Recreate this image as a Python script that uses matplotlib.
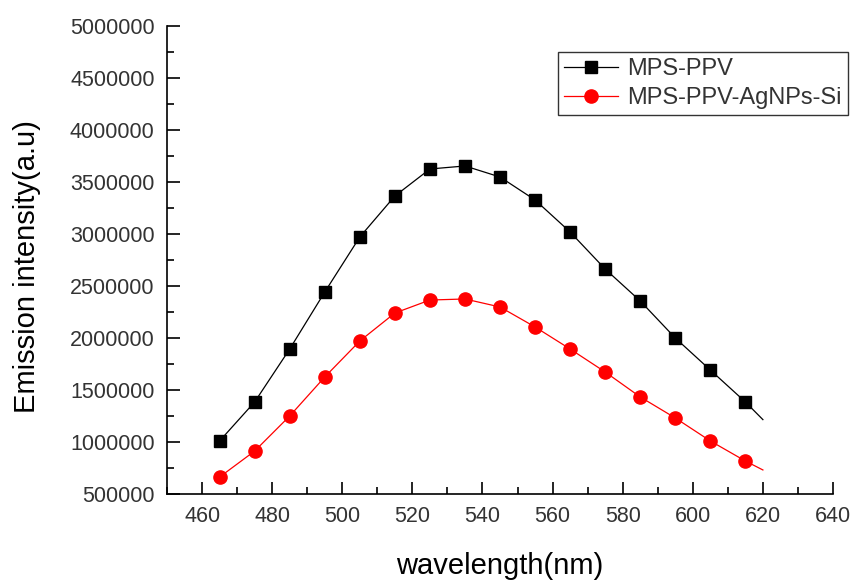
import numpy as np
import matplotlib
matplotlib.use('Agg')
import matplotlib.pyplot as plt
from matplotlib.ticker import MultipleLocator, FormatStrFormatter

# wavelength (nm) of the plotted points; last point is the curve end (no marker)
wavelength = [465, 475, 485, 495, 505, 515, 525, 535, 545, 555,
              565, 575, 585, 595, 605, 615, 620]
mps_ppv = [1010000, 1385000, 1894000, 2442000, 2971000, 3365000, 3625000,
           3654000, 3548000, 3327000, 3019000, 2663000, 2356000, 2000000,
           1692000, 1385000, 1215000]
mps_ppv_ag = [663000, 913000, 1250000, 1625000, 1971000, 2240000, 2365000,
              2375000, 2298000, 2106000, 1894000, 1673000, 1433000, 1231000,
              1010000, 817000, 731000]
labels = ['MPS-PPV', 'MPS-PPV-AgNPs-Si']

plt.rcParams.update({
    'font.family': ['Liberation Sans', 'DejaVu Sans'],
    'text.color': '#333333',
    'xtick.color': 'black',
    'ytick.color': 'black',
    'xtick.labelcolor': '#333333',
    'ytick.labelcolor': '#333333',
})

fig = plt.figure(figsize=(8.54, 5.8), dpi=100)
ax = fig.add_axes([0.1956, 0.1483, 0.7798, 0.8069])

n = len(wavelength) - 1
ax.plot(wavelength, mps_ppv, color='black', lw=0.9, marker='s', ms=9,
        markevery=list(range(n)), label=labels[0])
ax.plot(wavelength, mps_ppv_ag, color='red', lw=0.9, marker='o', ms=9.5,
        markevery=list(range(n)), label=labels[1])

ax.set_xlim(450, 640)
ax.set_ylim(500000, 5000000)
ax.xaxis.set_major_locator(MultipleLocator(20))
ax.xaxis.set_minor_locator(MultipleLocator(10))
ax.yaxis.set_major_locator(MultipleLocator(500000))
ax.yaxis.set_minor_locator(MultipleLocator(250000))
ax.yaxis.set_major_formatter(FormatStrFormatter('%d'))
ax.tick_params(which='both', direction='in', labelsize=15.5, width=1.2)
ax.tick_params(which='major', length=9, pad=9)
ax.tick_params(which='minor', length=5)
ax.spines['top'].set_visible(False)
ax.spines['right'].set_visible(False)
ax.spines['left'].set_linewidth(1.2)
ax.spines['bottom'].set_linewidth(1.2)

ax.set_xlabel('wavelength(nm)', fontsize=21)
ax.set_ylabel('Emission intensity(a.u)', fontsize=21)
ax.xaxis.set_label_coords(0.5, -0.125)
ax.yaxis.set_label_coords(-0.19, 0.485)

leg = ax.legend(loc='upper left', bbox_to_anchor=(0.653, 0.91),
                bbox_transform=fig.transFigure, fontsize=17,
                frameon=True, fancybox=False, edgecolor='black',
                handlelength=2.3, handletextpad=0.4, borderaxespad=0,
                borderpad=0.25, labelspacing=0.3)
leg.get_frame().set_linewidth(1.0)

fig.savefig('out.png', dpi=100)
